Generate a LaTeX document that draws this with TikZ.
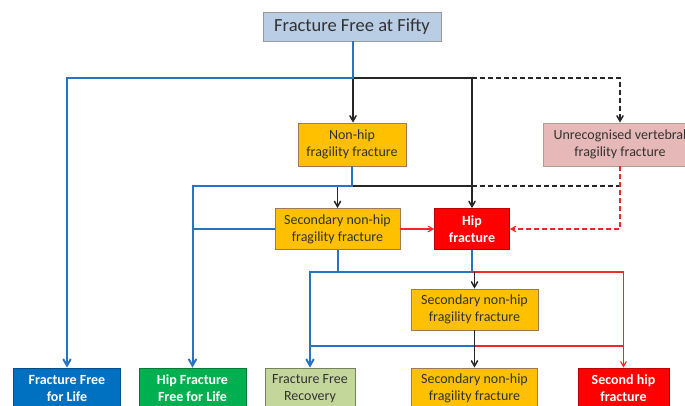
\documentclass[tikz,border=0pt]{standalone}
\usepackage{fontspec}
\setmainfont{Carlito}
\usetikzlibrary{arrows}
\definecolor{topblue}{RGB}{185,205,229}
\definecolor{gold}{RGB}{255,192,0}
\definecolor{pinkish}{RGB}{230,185,184}
\definecolor{lifeblue}{RGB}{0,112,192}
\definecolor{lifegreen}{RGB}{0,176,80}
\definecolor{palegreen}{RGB}{196,215,155}
\definecolor{linkblue}{RGB}{40,115,195}
\definecolor{linkred}{RGB}{240,40,40}
\definecolor{textgray}{RGB}{50,50,50}
\tikzset{box/.style={rectangle,draw=black!45,line width=0.8pt,align=center,inner sep=1pt,minimum height=41pt,
			text=textgray,font=\fontsize{14}{17}\selectfont},
		whitebox/.style={box,text=white,font=\fontsize{14}{17}\selectfont\bfseries},
		blueflow/.style={draw=linkblue,line width=2pt,>=angle 60},
		blackflow/.style={draw=black!85,line width=1.5pt,>=angle 60},
		redflow/.style={draw=linkred,line width=1.2pt,>=angle 60},
		gap/.style={dash pattern=on 5pt off 3pt}}

\begin{document}
\begin{tikzpicture}[x=1pt,y=-1pt,
		start/.style={box,fill=topblue,draw=black!40,minimum width=178pt,minimum height=29pt,font=\fontsize{18.5}{21}\selectfont},
		fragility/.style={box,fill=gold,draw=brown!70!black!80},
		unknown/.style={box,fill=pinkish,draw=brown!50!black!50},
		hip/.style={whitebox,fill=red,draw=red!75!black},
		outcome/.style={whitebox,minimum width=107pt}]
	\useasboundingbox (0,0) rectangle (685,406);
	\clip (0,0) rectangle (685,406);
	\node[start] (fifty) at (352,26.5) {Fracture Free at Fifty};
	\node[fragility,minimum width=108pt,minimum height=43pt] (non-hip) at (352,144.5) {Non-hip\\fragility fracture};
	\node[unknown,minimum width=154pt,minimum height=43pt] (unrec-vert) at (620,144.5) {Unrecognised vertebral\\fragility fracture};
	\node[fragility,minimum width=125pt] (sec-non-hip-a) at (337.5,229) {Secondary non-hip\\fragility fracture};
	\node[hip,minimum width=75pt] (hip-fracture) at (472,229) {Hip\\fracture};
	\node[fragility,minimum width=127pt] (sec-non-hip-b) at (474.5,309.5) {Secondary non-hip\\fragility fracture};
	
	\node[outcome,fill=lifeblue,draw=lifeblue!70!black] (ff-life) at (67,388.5) {Fracture Free\\for Life};
	\node[outcome,fill=lifegreen,draw=lifegreen!70!black] (hip-ff-life) at (192.5,388.5) {Hip Fracture\\Free for Life};
	\node[box,fill=palegreen,draw=palegreen!60!black,minimum width=90pt] (ff-recovery) at (310,388.5) {Fracture Free\\Recovery};
	\node[fragility,minimum width=126pt] (sec-non-hip-c) at (474.5,388.5) {Secondary non-hip\\fragility fracture};
	\node[hip,minimum width=91pt] (second-hip) at (623.5,388.5) {Second hip\\fracture};
	
	\coordinate (split-top) at (353,78);
	\coordinate (split-mid) at (352,186);
	\coordinate (split-low) at (472,272);
	\coordinate (split-bot) at (474.5,346);
	
	% from fracture free at fifty
	\draw[blackflow,->] (split-top) -- (split-top |- non-hip.north);
	\draw[blackflow,->] (split-top) -| (hip-fracture.north);
	\draw[blackflow,gap,->] (hip-fracture.north |- split-top) -| (unrec-vert.north);
	\draw[blueflow,->] (fifty.south -| split-top) -- (split-top) -| (ff-life.north);
	
	% after the first non-hip fracture
	\draw[blackflow,->] (sec-non-hip-a.north |- split-mid) -- (sec-non-hip-a.north);
	\draw[blackflow] (sec-non-hip-a.north |- split-mid) -- (hip-fracture.north |- split-mid);
	\draw[blackflow,gap] (hip-fracture.north |- split-mid) -- (unrec-vert.south |- split-mid);
	\draw[blueflow,->] (non-hip.south) -- (split-mid) -| (hip-ff-life.north);
	\draw[blueflow] (sec-non-hip-a.west) -- (hip-ff-life.north |- sec-non-hip-a.west);
	\draw[redflow,->] (sec-non-hip-a.east) -- (hip-fracture.west);
	\draw[redflow,gap,->] (unrec-vert.south) |- (hip-fracture.east);
	
	% after the hip fracture
	\draw[blueflow] (sec-non-hip-a.south) -- (sec-non-hip-a.south |- split-low);
	\draw[blueflow,->] (hip-fracture.south) -- (split-low) -| (ff-recovery.north);
	\draw[redflow,->] (split-low) -| (second-hip.north);
	\draw[blackflow,->] (split-low -| sec-non-hip-b.north) -- (sec-non-hip-b.north);
	
	% after the second non-hip fracture
	\draw[blueflow] (split-bot) -- (split-bot -| ff-recovery.north);
	\draw[redflow] (split-bot) -- (split-bot -| second-hip.north);
	\draw[blackflow,->] (sec-non-hip-b.south) -- (sec-non-hip-c.north);
\end{tikzpicture}
\end{document}
